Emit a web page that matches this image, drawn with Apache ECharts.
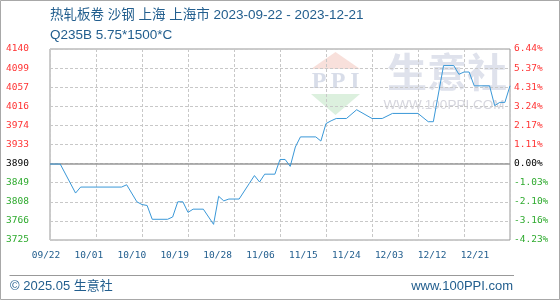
<!DOCTYPE html>
<html><head><meta charset="utf-8">
<script src="https://cdn.jsdelivr.net/npm/echarts@6/dist/echarts.min.js"></script>
<style>html,body{margin:0;padding:0;background:#fff}#c{width:560px;height:300px}</style>
</head><body><div id="c"></div>
<script>
const titleLine1 = '热轧板卷 沙钢 上海 上海市 2023-09-22 - 2023-12-21';
const titleLine2 = 'Q235B 5.75*1500*C';
const footerLeft = '© 2025.05 生意社';
const footerRight = 'www.100PPI.com';
const startDate = '2023-09-22';
const totalDays = 90;
const xLabels = ['09/22','10/01','10/10','10/19','10/28','11/06','11/15','11/24','12/03','12/12','12/21'];
const dates = ['2023-09-22','2023-09-24','2023-09-27','2023-09-28','2023-10-06','2023-10-07','2023-10-09','2023-10-10','2023-10-11','2023-10-12','2023-10-15','2023-10-16','2023-10-17','2023-10-18','2023-10-19','2023-10-20','2023-10-22','2023-10-24','2023-10-25','2023-10-26','2023-10-27','2023-10-29','2023-10-31','2023-11-01','2023-11-02','2023-11-03','2023-11-05','2023-11-06','2023-11-07','2023-11-08','2023-11-09','2023-11-10','2023-11-13','2023-11-14','2023-11-15','2023-11-16','2023-11-17','2023-11-19','2023-11-21','2023-11-24','2023-11-26','2023-11-28','2023-12-03','2023-12-05','2023-12-06','2023-12-08','2023-12-10','2023-12-11','2023-12-12','2023-12-13','2023-12-14','2023-12-17','2023-12-18','2023-12-19','2023-12-20','2023-12-21'];
const prices = [3890,3890,3827,3840,3840,3845,3808,3802,3800,3770,3770,3775,3808,3808,3785,3792,3792,3759,3820,3810,3814,3814,3848,3865,3851,3868,3868,3900,3900,3885,3927,3949,3949,3940,3978,3984,3989,3989,4008,3989,3989,4000,4000,3982,3982,4104,4104,4085,4090,4090,4060,4060,4017,4024,4024,4060];
const basePrice = 3890;
const priceTicks = [3725,3766,3808,3849,3890,3933,3974,4016,4057,4099,4140];
const pctTicks = ['-4.23%','-3.16%','-2.10%','-1.03%','0.00%','1.11%','2.17%','3.24%','4.31%','5.37%','6.44%'];

const DAY = 86400000;
const dayIndex = d => Math.round((Date.parse(d) - Date.parse(startDate)) / DAY);
const yMin = priceTicks[0], yMax = priceTicks[priceTicks.length - 1];
const yInt = (yMax - yMin) / (priceTicks.length - 1);
const tickIdx = v => Math.round((v - yMin) / yInt);
const styleOf = i => priceTicks[i] > basePrice ? 'up' : (priceTicks[i] < basePrice ? 'dn' : 'zero');
const labelFont = '"DejaVu Sans Mono", monospace';
const rich = {
  up: {color: '#ff3333', fontFamily: labelFont, fontSize: 9.5},
  dn: {color: '#2eaa2e', fontFamily: labelFont, fontSize: 9.5},
  zero: {color: '#000000', fontFamily: labelFont, fontSize: 9.5}
};
const blue = '#225e8e';
const textFont = '"Liberation Sans", "Noto Sans CJK SC", sans-serif';

const chart = echarts.init(document.getElementById('c'), null, {renderer: 'canvas'});
chart.setOption({
  animation: false,
  backgroundColor: '#fff',
  grid: [
    {left: 50, width: 460, top: 49, height: 191, show: true, borderColor: '#999', borderWidth: 1, backgroundColor: 'transparent', containLabel: false, outerBoundsMode: 'none'},
    {left: 46, width: 429, top: 49, height: 191, show: false, containLabel: false, outerBoundsMode: 'none'}
  ],
  xAxis: [
    {gridIndex: 0, type: 'value', min: 0, max: totalDays, interval: 9,
     axisLine: {show: false}, axisTick: {show: false}, axisLabel: {show: false},
     splitLine: {show: true, lineStyle: {color: '#c8c8c8', type: [3, 2], width: 1}}},
    {gridIndex: 1, type: 'category', boundaryGap: false, data: xLabels,
     axisLine: {show: false}, axisTick: {show: false}, splitLine: {show: false},
     axisLabel: {interval: 0, margin: 11, color: blue, fontSize: 9.5, fontFamily: labelFont}}
  ],
  yAxis: [
    {gridIndex: 0, type: 'value', position: 'left', min: yMin, max: yMax, interval: yInt,
     axisLine: {show: false}, axisTick: {show: false},
     splitLine: {show: true, lineStyle: {color: '#c8c8c8', type: [3, 2], width: 1}},
     axisLabel: {margin: 21, formatter: v => { const i = tickIdx(v); return '{' + styleOf(i) + '|' + priceTicks[i] + '}'; }, rich: rich}},
    {gridIndex: 0, type: 'value', position: 'right', min: yMin, max: yMax, interval: yInt,
     axisLine: {show: false}, axisTick: {show: false}, splitLine: {show: false},
     axisLabel: {margin: 4, formatter: v => { const i = tickIdx(v); return '{' + styleOf(i) + '|' + pctTicks[i] + '}'; }, rich: rich}},
    {gridIndex: 1, type: 'value', show: false, min: yMin, max: yMax}
  ],
  series: [{
    type: 'line', xAxisIndex: 0, yAxisIndex: 0, symbol: 'none', z: 5,
    data: dates.map((d, i) => [dayIndex(d), prices[i]]),
    lineStyle: {color: '#3a98d8', width: 1},
    markLine: {silent: true, symbol: 'none', label: {show: false}, animation: false,
      lineStyle: {color: '#999', type: 'solid', width: 1.5},
      data: [{yAxis: basePrice}]}
  }],
  graphic: [
    {type: 'rect', z: -10, shape: {x: 0.5, y: 0.5, width: 559, height: 299}, style: {fill: 'none', stroke: '#a8a8a8', lineWidth: 1}},
    {type: 'polygon', z: -10, shape: {points: [[311, 69], [335.5, 52], [360, 69]]}, style: {fill: '#f8e0db'}},
    {type: 'polygon', z: -10, shape: {points: [[311, 94], [360, 94], [335.5, 115]]}, style: {fill: '#dcf0de'}},
    {type: 'text', z: -10, x: 319, y: 82, style: {text: 'P', font: 'bold 24px "Liberation Serif", serif', fill: '#d8dde9', textAlign: 'center', textVerticalAlign: 'middle'}},
    {type: 'text', z: -10, x: 338, y: 82, style: {text: 'P', font: 'bold 24px "Liberation Serif", serif', fill: '#d8dde9', textAlign: 'center', textVerticalAlign: 'middle'}},
    {type: 'text', z: -10, x: 355, y: 82, style: {text: 'I', font: 'bold 24px "Liberation Serif", serif', fill: '#d8dde9', textAlign: 'center', textVerticalAlign: 'middle'}},
    {type: 'text', z: -10, x: 447, y: 72, style: {text: '生意社', font: 'bold 40px "Noto Sans CJK SC", sans-serif', fill: '#dfe2ec', textAlign: 'center', textVerticalAlign: 'middle'}},
    {type: 'text', z: -10, x: 444, y: 105, style: {text: 'WWW.100PPI.COM', font: '13.5px "Liberation Sans", sans-serif', fill: '#d6d6de', textAlign: 'center', textVerticalAlign: 'middle'}},
    {type: 'text', x: 50, y: 15, style: {text: titleLine1, font: '13.5px ' + textFont, fill: blue, textVerticalAlign: 'middle'}},
    {type: 'text', x: 50, y: 35, style: {text: titleLine2, font: '13.5px ' + textFont, fill: blue, textVerticalAlign: 'middle'}},
    {type: 'line', shape: {x1: 9.5, y1: 275.5, x2: 514, y2: 275.5}, style: {stroke: '#999', lineWidth: 1}},
    {type: 'text', x: 10, y: 286, style: {text: footerLeft, font: '13px ' + textFont, fill: blue, textVerticalAlign: 'middle'}},
    {type: 'text', x: 513, y: 286, style: {text: footerRight, font: '13px ' + textFont, fill: blue, textAlign: 'right', textVerticalAlign: 'middle'}}
  ]
});
</script></body></html>
